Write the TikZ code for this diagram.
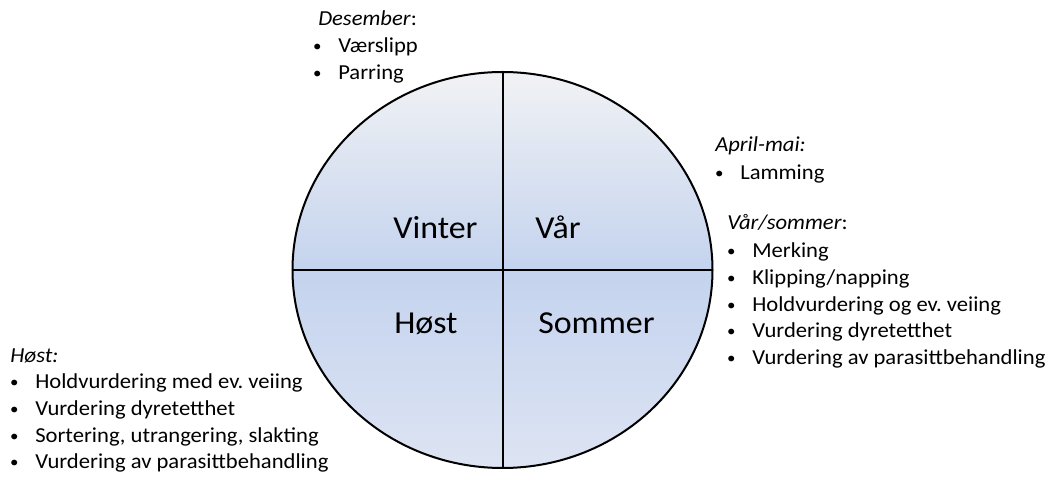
\documentclass[tikz,border=0pt]{standalone}
\usepackage{fontspec}
\setmainfont{Carlito}
\usepackage{graphicx}
\usepackage{tikz}
\definecolor{ringtop}{HTML}{F1F2F4}
\definecolor{ringmid}{HTML}{C4D3EE}
\definecolor{ringbot}{HTML}{DDE4F3}
\newcommand{\punkt}[1]{\makebox[18.4pt][l]{\hspace{0.6pt}\raisebox{1.2pt}{\scalebox{0.75}{\textbullet}}}#1}
\newcommand{\liten}[1]{\scalebox{1.06}[1]{\fontsize{16pt}{20pt}\selectfont #1}}
\newcommand{\stor}[1]{\scalebox{1.06}[1]{\fontsize{24pt}{28pt}\selectfont #1}}

\begin{document}
\frenchspacing
\begin{tikzpicture}[x=0.75pt,y=0.75pt,yscale=-1,xscale=1]
    \useasboundingbox (0,0) rectangle (1047,477);
    
    %Shape: Ellipse [id:arshjul] 
    \draw [line width=1.5pt, top color=ringtop, bottom color=ringbot, middle color=ringmid] (502.5,270) ellipse (210 and 198) ;
    %Straight Lines [id:loddrett] 
    \draw [line width=1.5pt]   (502.5,72) -- (502.5,468) ;
    %Straight Lines [id:vannrett] 
    \draw [line width=1.5pt]   (292.5,270) -- (712.5,270) ;
    
    % Text Node
    \draw (393,239) node [anchor=base west][inner sep=0pt] (vinter)  {\stor{Vinter}};
    % Text Node
    \draw (535,239) node [anchor=base west][inner sep=0pt] (vaar)  {\stor{Vår}};
    % Text Node
    \draw (394,334) node [anchor=base west][inner sep=0pt] (hoest)  {\stor{Høst}};
    % Text Node
    \draw (538,334) node [anchor=base west][inner sep=0pt] (sommer)  {\stor{Sommer}};
    
    % Text Node
    \draw (318,26) node [anchor=base west][inner sep=0pt] (des)  {\liten{\textit{Desember}:}};
    % Text Node
    \draw (312,53) node [anchor=base west][inner sep=0pt] (des1)  {\liten{\punkt{Værslipp}}};
    % Text Node
    \draw (312,80) node [anchor=base west][inner sep=0pt] (des2)  {\liten{\punkt{Parring}}};
    
    % Text Node
    \draw (715,152) node [anchor=base west][inner sep=0pt] (april)  {\liten{\textit{April-mai:}}};
    % Text Node
    \draw (714,180) node [anchor=base west][inner sep=0pt] (april1)  {\liten{\punkt{Lamming}}};
    
    % Text Node
    \draw (727,230) node [anchor=base west][inner sep=0pt] (vs)  {\liten{\textit{Vår/sommer}:}};
    % Text Node
    \draw (726,258) node [anchor=base west][inner sep=0pt] (vs1)  {\liten{\punkt{Merking}}};
    % Text Node
    \draw (726,285) node [anchor=base west][inner sep=0pt] (vs2)  {\liten{\punkt{Klipping/napping}}};
    % Text Node
    \draw (726,312) node [anchor=base west][inner sep=0pt] (vs3)  {\liten{\punkt{Holdvurdering og ev.\ veiing}}};
    % Text Node
    \draw (726,338) node [anchor=base west][inner sep=0pt] (vs4)  {\liten{\punkt{Vurdering dyretetthet}}};
    % Text Node
    \draw (726,365) node [anchor=base west][inner sep=0pt] (vs5)  {\liten{\punkt{Vurdering av parasittbehandling}}};
    
    % Text Node
    \draw (10,363) node [anchor=base west][inner sep=0pt] (hst)  {\liten{\textit{Høst:}}};
    % Text Node
    \draw (9,389) node [anchor=base west][inner sep=0pt] (hst1)  {\liten{\punkt{Holdvurdering med ev.\ veiing}}};
    % Text Node
    \draw (9,416) node [anchor=base west][inner sep=0pt] (hst2)  {\liten{\punkt{Vurdering dyretetthet}}};
    % Text Node
    \draw (9,443) node [anchor=base west][inner sep=0pt] (hst3)  {\liten{\punkt{Sortering, utrangering, slakting}}};
    % Text Node
    \draw (9,469) node [anchor=base west][inner sep=0pt] (hst4)  {\liten{\punkt{Vurdering av parasittbehandling}}};
    
\end{tikzpicture}
\end{document}
